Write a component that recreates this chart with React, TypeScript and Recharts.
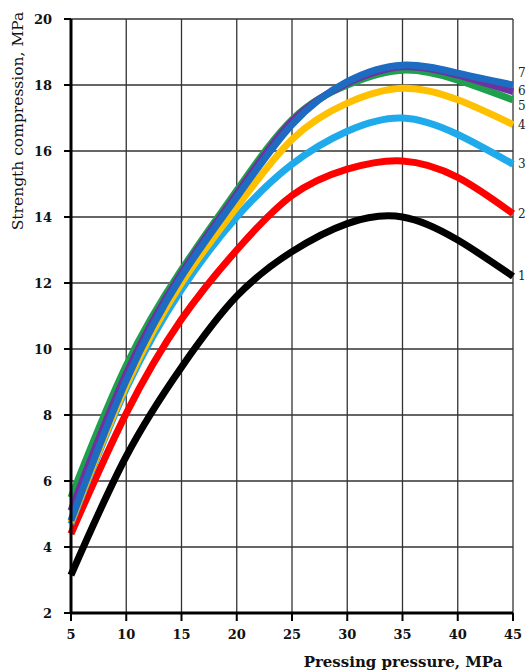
import React from 'react';
import { LineChart, Line, XAxis, YAxis, CartesianGrid, Label } from 'recharts';

// Pressing pressure, MPa
const pressure = [5, 10, 15, 20, 25, 30, 35, 40, 45];

// Compressive strength, MPa, for curves 1..7
const curve1 = [3.15, 6.75, 9.45, 11.6, 12.95, 13.8, 14.0, 13.3, 12.2];
const curve2 = [4.4, 8.05, 10.9, 13.0, 14.65, 15.45, 15.7, 15.2, 14.1];
const curve3 = [4.7, 8.8, 11.8, 14.0, 15.6, 16.6, 17.0, 16.5, 15.6];
const curve4 = [4.75, 8.9, 12.0, 14.3, 16.35, 17.45, 17.9, 17.55, 16.8];
const curve5 = [5.5, 9.5, 12.4, 14.8, 16.95, 18.0, 18.45, 18.15, 17.55];
const curve6 = [5.1, 9.25, 12.3, 14.7, 16.9, 18.05, 18.55, 18.3, 17.8];
const curve7 = [4.8, 9.05, 12.2, 14.6, 16.8, 18.1, 18.6, 18.36, 18.0];

const curveNames = ['1', '2', '3', '4', '5', '6', '7'];
const curveColors = ['#000000', '#ff0000', '#1eaaeb', '#ffc000', '#1fa04c', '#7030a0', '#1e6bc2'];
// vertical nudge of the end labels so they don't overlap
const labelShift = [0, 0, 0, 0, 6, -1, -12];

const xTicks = [5, 10, 15, 20, 25, 30, 35, 40, 45];
const yTicks = [2, 4, 6, 8, 10, 12, 14, 16, 18, 20];

const allCurves = [curve1, curve2, curve3, curve4, curve5, curve6, curve7];

const data = pressure.map((p, i) => {
  const row: Record<string, number> = { p };
  allCurves.forEach((c, k) => {
    row['c' + (k + 1)] = c[i];
  });
  return row;
});

const serif = '"DejaVu Serif", "Liberation Serif", serif';

const endLabel = (k: number) => (props: any) => {
  const { x, y, index } = props;
  if (index !== pressure.length - 1) return null;
  return (
    <text
      key={'lbl' + k}
      x={x + 5}
      y={y + labelShift[k]}
      dominantBaseline="central"
      fontFamily={serif}
      fontSize={12}
      fill="#222"
    >
      {curveNames[k]}
    </text>
  );
};

export default function App() {
  return (
    <div style={{ position: 'fixed', left: 0, top: 0, width: 527, height: 672, background: '#fff' }}>
      <LineChart
        width={527}
        height={672}
        data={data}
        margin={{ top: 19, right: 14, bottom: 0, left: 0 }}
      >
        <CartesianGrid stroke="#333" strokeWidth={1.3} />
        <XAxis
          dataKey="p"
          type="number"
          domain={[5, 45]}
          ticks={xTicks}
          height={59}
          axisLine={{ stroke: '#000', strokeWidth: 3 }}
          tickLine={{ stroke: '#000', strokeWidth: 2 }}
          tickSize={8}
          tickMargin={9}
          tick={{ fill: '#111', fontFamily: serif, fontWeight: 'bold', fontSize: 13 }}
        >
          <Label
            content={() => (
              <text
                x={403}
                y={667}
                textAnchor="middle"
                fontFamily={serif}
                fontWeight="bold"
                fontSize={15}
                fill="#111"
              >
                Pressing pressure, MPa
              </text>
            )}
          />
        </XAxis>
        <YAxis
          type="number"
          domain={[2, 20]}
          ticks={yTicks}
          width={71}
          axisLine={{ stroke: '#000', strokeWidth: 3 }}
          tickLine={{ stroke: '#000', strokeWidth: 2 }}
          tickSize={7}
          tickMargin={12}
          tick={{ fill: '#111', fontFamily: serif, fontWeight: 'bold', fontSize: 13 }}
        >
          <Label
            content={() => (
              <text
                x={18}
                y={121}
                transform="rotate(-90 18 121)"
                textAnchor="middle"
                dominantBaseline="central"
                fontFamily={serif}
                fontSize={15.5}
                fill="#111"
              >
                Strength compression, MPa
              </text>
            )}
          />
        </YAxis>
        {curveNames.map((name, k) => (
          <Line
            key={name}
            dataKey={'c' + (k + 1)}
            type="natural"
            stroke={curveColors[k]}
            strokeWidth={7}
            dot={false}
            activeDot={false}
            isAnimationActive={false}
            label={endLabel(k)}
          />
        ))}
      </LineChart>
    </div>
  );
}
